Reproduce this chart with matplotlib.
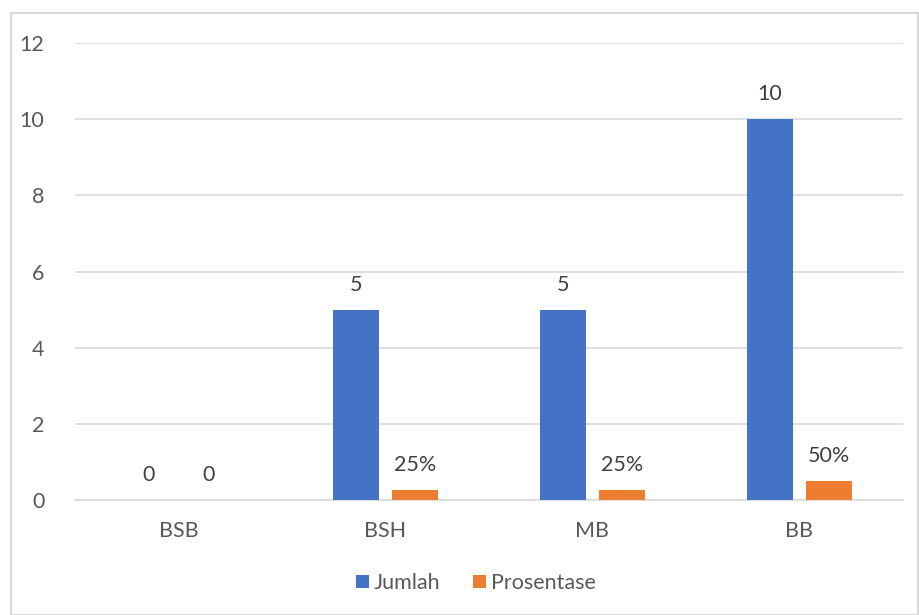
import numpy as np
import matplotlib.pyplot as plt
from matplotlib.patches import Rectangle

# data
kategori   = ['BSB', 'BSH', 'MB', 'BB']
jumlah     = [0, 5, 5, 10]
prosentase = [0, 0.25, 0.25, 0.5]
label_j    = ['0', '5', '5', '10']
label_p    = ['0', '25%', '25%', '50%']

plt.rcParams['font.family'] = ['Lato', 'DejaVu Sans']
fs = 15.5

fig = plt.figure(figsize=(9.2, 6.15), dpi=100)
ax = fig.add_axes([75/920, 115/615, 828/920, 457/615])

x = np.arange(len(kategori))
w = 0.222
off = 0.143
b1 = ax.bar(x - off, jumlah, w, color='#4472C4', label='Jumlah', zorder=3)
b2 = ax.bar(x + off, prosentase, w, color='#ED7D31', label='Prosentase', zorder=3)

for rect, t in zip(b1, label_j):
    ax.annotate(t, (rect.get_x() + rect.get_width()/2, rect.get_height()),
                xytext=(0, 15), textcoords='offset pixels', ha='center', va='bottom',
                fontsize=fs, color='#404040')
for rect, t in zip(b2, label_p):
    ax.annotate(t, (rect.get_x() + rect.get_width()/2, rect.get_height()),
                xytext=(0, 15), textcoords='offset pixels', ha='center', va='bottom',
                fontsize=fs, color='#404040')

ax.set_xlim(-0.5, 3.5)
ax.set_ylim(0, 12)
ax.set_yticks(range(0, 13, 2))
ax.set_xticks(x)
ax.set_xticklabels(kategori)
ax.grid(axis='y', color='#d9d9d9', linewidth=1.2, zorder=0)
for s in ['top', 'right', 'left']:
    ax.spines[s].set_visible(False)
ax.spines['bottom'].set_color('#d9d9d9')
ax.spines['bottom'].set_linewidth(1.2)
ax.tick_params(axis='both', length=0, labelsize=fs, labelcolor='#595959')
ax.tick_params(axis='y', pad=22)
ax.tick_params(axis='x', pad=15)

ax.legend(loc='center', bbox_to_anchor=(476/920, 32/615), bbox_transform=fig.transFigure,
          ncol=2, frameon=False, fontsize=fs, handlelength=0.6, handleheight=0.6,
          handletextpad=0.25, columnspacing=1.5, labelcolor='#595959')

fig.patches.append(Rectangle((11/920, 0), 907/920, 602/615, transform=fig.transFigure,
                             fill=False, edgecolor='#d9d9d9', linewidth=1.5))

fig.savefig('out.png', dpi=100)
